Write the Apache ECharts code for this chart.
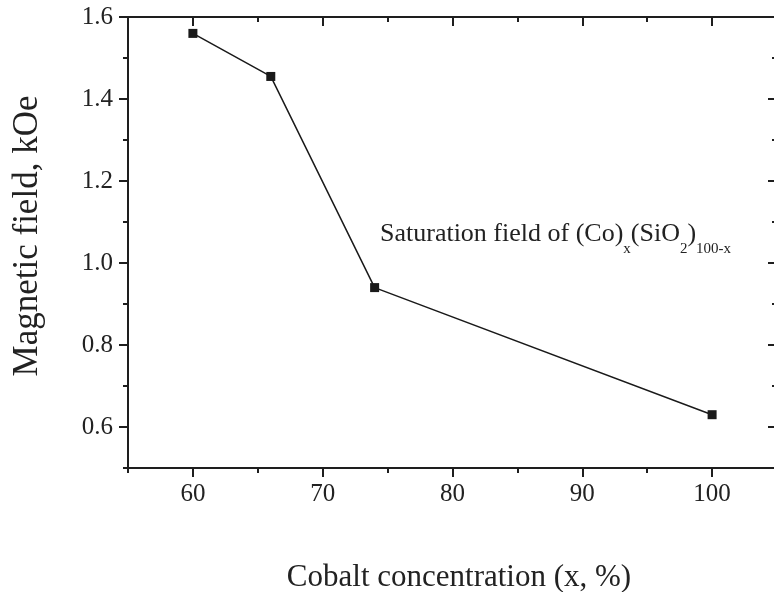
<!DOCTYPE html>
<html style="height: 100%; width: 100%;">
<head>
    <meta charset="utf-8">
    <title>Saturation field of (Co)x(SiO2)100-x</title>
    <script src="https://cdn.jsdelivr.net/npm/echarts@6/dist/echarts.min.js"></script>
    <style>
        body, html {
            margin: 0;
            padding: 0;
            width: 100%;
            height: 100%;
            background: #fff;
        }
        #main {
            width: 774px;
            height: 592px;
        }
    </style>
</head>
<body>
<div id="main"></div>
<script type="text/javascript">
    // data
    var cobalt = [60, 66, 74, 100];          // x, %
    var field = [1.56, 1.455, 0.94, 0.63];   // kOe

    // tick values
    var xMajor = [60, 70, 80, 90, 100];
    var xMinor = [55, 65, 75, 85, 95, 105];
    var yMajor = [0.6, 0.8, 1.0, 1.2, 1.4, 1.6];
    var yMinor = [0.5, 0.7, 0.9, 1.1, 1.3, 1.5];

    var font = '"Liberation Serif", "DejaVu Serif", serif';
    var ink = '#1e1e1e';

    var chart = echarts.init(document.getElementById('main'));

    function xAxisOf(pos, ticks, len, inside, withLine, withLabels) {
        return {
            type: 'value',
            position: pos,
            min: 55,
            max: 105,
            splitLine: { show: false },
            axisLine: { show: withLine, lineStyle: { color: ink, width: 2 } },
            axisTick: {
                show: true,
                inside: inside,
                length: len,
                customValues: ticks,
                lineStyle: { color: ink, width: 2 }
            },
            axisLabel: withLabels ? {
                show: true,
                customValues: xMajor,
                margin: 14,
                fontFamily: font,
                fontSize: 25,
                color: '#222'
            } : { show: false }
        };
    }

    function yAxisOf(pos, ticks, len, inside, withLine, withLabels) {
        return {
            type: 'value',
            position: pos,
            min: 0.5,
            max: 1.6,
            splitLine: { show: false },
            axisLine: { show: withLine, lineStyle: { color: ink, width: 2 } },
            axisTick: {
                show: true,
                inside: inside,
                length: len,
                customValues: ticks,
                lineStyle: { color: ink, width: 2 }
            },
            axisLabel: withLabels ? {
                show: true,
                customValues: yMajor,
                margin: 15,
                fontFamily: font,
                fontSize: 25,
                color: '#222',
                formatter: function (v) { return v.toFixed(1); }
            } : { show: false }
        };
    }

    var xAxes = [
        xAxisOf('bottom', xMajor, 9, false, true, true),
        xAxisOf('bottom', xMinor, 5, false, false, false),
        xAxisOf('top', xMajor, 9, true, true, false),
        xAxisOf('top', xMinor, 5, true, false, false)
    ];
    xAxes[0].name = 'Cobalt concentration (x, %)';
    xAxes[0].nameLocation = 'middle';
    xAxes[0].nameGap = 94;
    xAxes[0].nameTextStyle = { fontFamily: font, fontSize: 31, color: '#222', padding: [0, 0, 0, 13] };

    var yAxes = [
        yAxisOf('left', yMajor, 9, false, true, true),
        yAxisOf('left', yMinor, 5, false, false, false),
        yAxisOf('right', yMajor, 9, true, true, false),
        yAxisOf('right', yMinor, 5, true, false, false)
    ];
    yAxes[0].name = 'Magnetic field, kOe';
    yAxes[0].nameLocation = 'middle';
    yAxes[0].nameGap = 83;
    yAxes[0].nameTextStyle = { fontFamily: font, fontSize: 35, color: '#222', padding: [0, 0, 0, 13] };

    var option = {
        animation: false,
        backgroundColor: '#fff',
        // the right frame edge sits just past the window, as in the figure
        grid: {
            left: 128, top: 17, width: 649, height: 451,
            containLabel: false,
            outerBoundsMode: 'none'
        },
        xAxis: xAxes,
        yAxis: yAxes,
        graphic: [{
            type: 'text',
            left: 380,
            top: 221,
            style: {
                text: '{a|Saturation field of (Co)}{s|x}{a|(SiO}{s|2}{a|)}{s|100-x}',
                rich: {
                    a: { fontFamily: font, fontSize: 26, fill: '#222' },
                    s: { fontFamily: font, fontSize: 15, fill: '#222', padding: [31, 0, 0, 0] }
                }
            }
        }],
        series: [{
            type: 'line',
            xAxisIndex: 0,
            yAxisIndex: 0,
            data: cobalt.map(function (x, i) { return [x, field[i]]; }),
            symbol: 'rect',
            symbolSize: 9,
            itemStyle: { color: '#1a1a1a' },
            lineStyle: { color: '#1a1a1a', width: 1.5 }
        }]
    };

    chart.setOption(option);
</script>
</body>
</html>
